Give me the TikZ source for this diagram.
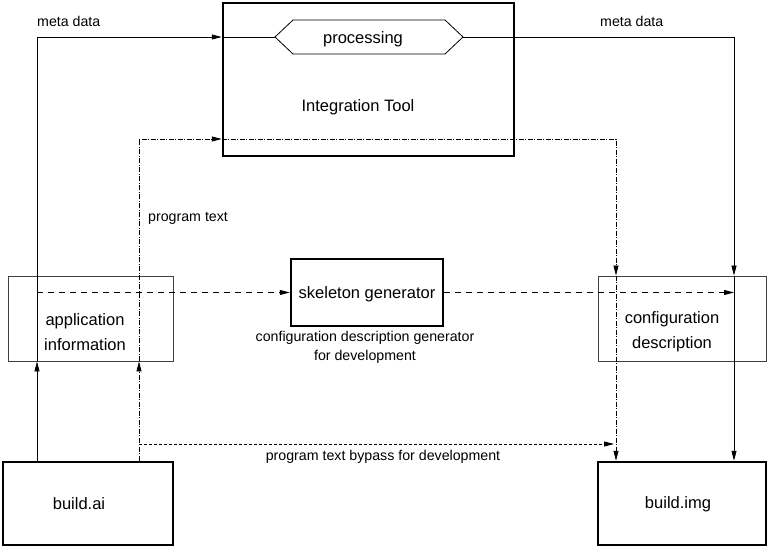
\documentclass[tikz,border=0pt]{standalone}
\usepackage{fontspec}
\setmainfont{Liberation Sans}
\usetikzlibrary{arrows.meta,calc}
\begin{document}
\begin{tikzpicture}[x=1pt,y=-1pt,
  thickbox/.style={draw=black,line width=2.5pt,inner sep=0pt},
  thinbox/.style={draw=black!75,line width=0.9pt,inner sep=0pt},
  bigtxt/.style={font=\fontsize{16.5}{25}\selectfont,align=center,inner sep=0pt},
  smalltxt/.style={font=\fontsize{14.2}{19}\selectfont,align=center,inner sep=0pt},
  conn/.style={draw=black,line width=0.8pt},
  dd/.style={draw=black,line width=0.8pt,dash pattern=on 5pt off 1.5pt on 1pt off 1.5pt},
  dsh/.style={draw=black,line width=0.8pt,dash pattern=on 6pt off 5pt},
  dots/.style={draw=black,line width=0.8pt,dash pattern=on 3pt off 2pt},
  tip/.style={-{Triangle[length=10pt,width=5pt]}}
]
\useasboundingbox (0,0) rectangle (769,548);
% boxes
\node[thickbox,minimum width=291pt,minimum height=153pt] (it) at (368.5,79.5) {};
\node[bigtxt] (itlabel) at (358,107) {Integration Tool};
\coordinate (pw) at (275,37);
\coordinate (pe) at (463,37);
\draw[conn] (pw) -- (293,20) -- (445,20) -- (pe) -- (445,54) -- (293,54) -- cycle;
\node[bigtxt] (proc) at (363,39) {processing};
\node[thinbox,minimum width=165pt,minimum height=85pt] (app) at (90.5,318.5) {};
\node[bigtxt] (applabel) at (85,332.5) {application\\information};
\node[thickbox,minimum width=152pt,minimum height=67pt] (sk) at (367,292.5) {};
\node[bigtxt] (sklabel) at (367,294) {skeleton generator};
\node[smalltxt] (sknote) at (365,347.5) {configuration description generator\\for development};
\node[thinbox,minimum width=168pt,minimum height=85pt] (cfg) at (682,318.5) {};
\node[bigtxt] (cfglabel) at (672,332) {configuration\\description};
\node[thickbox,minimum width=170pt,minimum height=83pt] (ai) at (88,503.5) {};
\node[bigtxt] (ailabel) at (79,504) {build.ai};
\node[thickbox,minimum width=168pt,minimum height=83pt] (img) at (682,503.5) {};
\node[bigtxt] (imglabel) at (678,504) {build.img};
% lanes
\coordinate (xa) at (37,0);
\coordinate (xb) at (139,0);
\coordinate (xc) at (616,0);
\coordinate (xd) at (734,0);
\coordinate (ytop) at (0,37);
\coordinate (ymid) at (0,139);
\coordinate (yby) at (0,444);
% meta data
\draw[conn,tip] (xa |- ai.north) -- (xa |- app.south);
\draw[conn,tip] (xa |- app.south) |- (it.west |- ytop);
\draw[conn] (it.west |- ytop) -- (pw);
\draw[conn,tip] (pe) -| (xd |- cfg.north);
\draw[conn,tip] (xd |- cfg.north) -- (xd |- img.north);
% program text
\draw[dd,tip] (xb |- ai.north) -- (xb |- app.south);
\draw[dd,tip] (xb |- app.south) |- (it.west |- ymid);
\draw[dd,tip] (it.west |- ymid) -| (xc |- cfg.north);
\draw[dd,tip] (xc |- cfg.north) -- (xc |- img.north);
\draw[dots,tip] (xb |- yby) -- ($(xc |- yby)+(-2,0)$);
% skeleton
\draw[dsh,tip] (xa |- sk.west) -- (sk.west);
\draw[dsh,tip] (sk.east) -- (xd |- sk.east);
% labels
\node[smalltxt,anchor=west] (mdl) at (37,21) {meta data};
\node[smalltxt,anchor=west] (mdr) at (600,21) {meta data};
\node[smalltxt,anchor=west] (pt) at (148,218) {program text};
\node[smalltxt] (bp) at (383,457) {program text bypass for development};
\end{tikzpicture}
\end{document}
